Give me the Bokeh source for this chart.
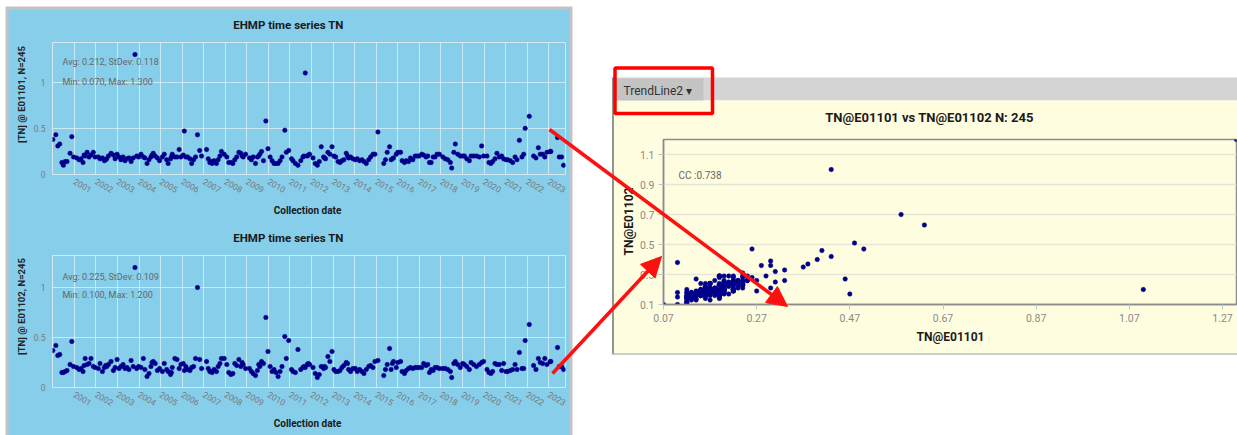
import math
from bokeh.plotting import figure
from bokeh.models import Column, Range1d, FixedTicker, CustomJSTickFormatter, Arrow, NormalHead
from bokeh.core.properties import value
from bokeh.embed import file_html
from bokeh.resources import INLINE

# ---------------- data ----------------
sample_dates = [
    2000.00, 2000.14, 2000.23, 2000.32, 2000.42, 2000.49, 2000.57, 2000.66, 2000.80, 2000.88, 2000.96,
    2001.11, 2001.22, 2001.31, 2001.40, 2001.45, 2001.50, 2001.59, 2001.68, 2001.77, 2001.88, 2001.96,
    2002.11, 2002.19, 2002.30, 2002.39, 2002.45, 2002.50, 2002.58, 2002.70, 2002.81, 2002.89, 2002.98,
    2003.07, 2003.16, 2003.26, 2003.35, 2003.44, 2003.53, 2003.63, 2003.73, 2003.81, 2003.89, 2003.98,
    2004.09, 2004.20, 2004.27, 2004.37, 2004.46, 2004.55, 2004.60, 2004.66, 2004.75, 2004.85, 2004.95,
    2005.08, 2005.17, 2005.28, 2005.35, 2005.46, 2005.50, 2005.54, 2005.66, 2005.76, 2005.86, 2005.94,
    2006.05, 2006.10, 2006.17, 2006.25, 2006.36, 2006.44, 2006.53, 2006.62, 2006.71, 2006.81, 2006.90,
    2007.13, 2007.21, 2007.28, 2007.35, 2007.39, 2007.48, 2007.59, 2007.67, 2007.75, 2007.82, 2007.95,
    2008.07, 2008.16, 2008.26, 2008.35, 2008.44, 2008.53, 2008.63, 2008.72, 2008.78, 2008.83, 2008.94,
    2009.12, 2009.21, 2009.29, 2009.40, 2009.49, 2009.55, 2009.60, 2009.68, 2009.77, 2009.88, 2009.98,
    2010.08, 2010.17, 2010.26, 2010.35, 2010.45, 2010.54, 2010.63, 2010.76, 2010.83, 2010.94,
    2011.07, 2011.14, 2011.25, 2011.37, 2011.50, 2011.60, 2011.65, 2011.71, 2011.80, 2011.85, 2011.91,
    2012.07, 2012.17, 2012.27, 2012.36, 2012.45, 2012.56, 2012.60, 2012.65, 2012.76, 2012.85, 2012.95,
    2013.04, 2013.12, 2013.23, 2013.32, 2013.41, 2013.50, 2013.61, 2013.67, 2013.72, 2013.81, 2013.92,
    2014.03, 2014.12, 2014.23, 2014.34, 2014.43, 2014.54, 2014.65, 2014.74, 2014.85, 2014.94, 2015.08,
    2015.35, 2015.43, 2015.51, 2015.62, 2015.69, 2015.75, 2015.80, 2015.93, 2016.00,
    2016.13, 2016.20, 2016.31, 2016.39, 2016.50, 2016.59, 2016.70, 2016.81, 2016.90, 2016.99,
    2017.11, 2017.20, 2017.31, 2017.39, 2017.47, 2017.55, 2017.64, 2017.73, 2017.82, 2017.93,
    2018.09, 2018.20, 2018.32, 2018.44, 2018.50, 2018.60, 2018.67, 2018.78, 2018.90, 2019.01,
    2019.09, 2019.20, 2019.32, 2019.40, 2019.52, 2019.65, 2019.78, 2019.89, 2019.98,
    2020.14, 2020.23, 2020.32, 2020.40, 2020.51, 2020.60, 2020.71, 2020.82, 2020.91, 2021.02,
    2021.10, 2021.22, 2021.33, 2021.44, 2021.53, 2021.64, 2021.76, 2021.84, 2021.91,
    2022.10, 2022.30, 2022.41, 2022.52, 2022.61, 2022.72, 2022.82, 2022.92, 2023.07,
    2023.10, 2023.41, 2023.49, 2023.60, 2023.69,
]

tn_e01101 = [
    0.38, 0.43, 0.31, 0.33, 0.13, 0.10, 0.14, 0.14, 0.23, 0.41, 0.19,
    0.18, 0.16, 0.17, 0.13, 0.21, 0.20, 0.24, 0.19, 0.21, 0.24, 0.19,
    0.19, 0.17, 0.18, 0.15, 0.16, 0.17, 0.20, 0.23, 0.21, 0.17, 0.22,
    0.19, 0.16, 0.19, 0.15, 0.17, 0.18, 0.14, 0.18, 1.30, 0.20, 0.19,
    0.22, 0.19, 0.18, 0.12, 0.16, 0.19, 0.21, 0.23, 0.20, 0.18, 0.15,
    0.19, 0.22, 0.16, 0.12, 0.17, 0.19, 0.22, 0.19, 0.19, 0.27, 0.19,
    0.21, 0.47, 0.19, 0.19, 0.17, 0.12, 0.16, 0.19, 0.43, 0.26, 0.20,
    0.27, 0.17, 0.13, 0.14, 0.12, 0.15, 0.12, 0.16, 0.20, 0.25, 0.22,
    0.19, 0.13, 0.13, 0.12, 0.16, 0.19, 0.24, 0.23, 0.20, 0.19, 0.22,
    0.18, 0.16, 0.19, 0.12, 0.19, 0.20, 0.22, 0.25, 0.15, 0.58, 0.28,
    0.19, 0.15, 0.12, 0.12, 0.12, 0.15, 0.19, 0.48, 0.24, 0.26,
    0.17, 0.15, 0.12, 0.10, 0.15, 0.19, 0.20, 1.10, 0.20, 0.21, 0.22,
    0.18, 0.12, 0.10, 0.14, 0.30, 0.19, 0.18, 0.17, 0.24, 0.22, 0.30,
    0.20, 0.19, 0.14, 0.13, 0.15, 0.16, 0.23, 0.20, 0.18, 0.19, 0.17,
    0.16, 0.17, 0.15, 0.16, 0.14, 0.12, 0.16, 0.19, 0.22, 0.22, 0.46,
    0.12, 0.16, 0.24, 0.30, 0.16, 0.17, 0.18, 0.22, 0.24,
    0.24, 0.15, 0.13, 0.15, 0.14, 0.18, 0.16, 0.20, 0.20, 0.20,
    0.22, 0.21, 0.19, 0.20, 0.13, 0.13, 0.19, 0.19, 0.22, 0.22,
    0.19, 0.17, 0.16, 0.13, 0.07, 0.24, 0.33, 0.22, 0.20, 0.20,
    0.20, 0.17, 0.15, 0.20, 0.20, 0.20, 0.19, 0.31, 0.20,
    0.20, 0.13, 0.12, 0.14, 0.17, 0.23, 0.19, 0.20, 0.17, 0.16,
    0.16, 0.15, 0.13, 0.19, 0.16, 0.37, 0.19, 0.22, 0.50,
    0.63, 0.20, 0.18, 0.29, 0.22, 0.22, 0.19, 0.24, 0.25,
    0.25, 0.40, 0.19, 0.19, 0.10,
]

tn_e01102 = [
    0.37, 0.42, 0.32, 0.33, 0.15, 0.15, 0.16, 0.17, 0.23, 0.46, 0.21,
    0.20, 0.18, 0.19, 0.16, 0.22, 0.29, 0.23, 0.24, 0.29, 0.21, 0.20,
    0.19, 0.24, 0.16, 0.20, 0.22, 0.21, 0.23, 0.26, 0.17, 0.20, 0.28,
    0.19, 0.21, 0.23, 0.19, 0.20, 0.18, 0.27, 0.21, 1.20, 0.19, 0.21,
    0.20, 0.29, 0.18, 0.11, 0.14, 0.21, 0.25, 0.26, 0.24, 0.17, 0.19,
    0.16, 0.24, 0.18, 0.16, 0.13, 0.15, 0.20, 0.29, 0.28, 0.19, 0.23,
    0.24, 0.17, 0.21, 0.18, 0.17, 0.20, 0.21, 0.29, 1.00, 0.28, 0.19,
    0.26, 0.19, 0.16, 0.16, 0.15, 0.18, 0.16, 0.21, 0.24, 0.29, 0.29,
    0.23, 0.15, 0.13, 0.14, 0.24, 0.22, 0.28, 0.21, 0.25, 0.23, 0.19,
    0.19, 0.16, 0.14, 0.12, 0.17, 0.23, 0.21, 0.26, 0.24, 0.70, 0.36,
    0.21, 0.16, 0.18, 0.15, 0.11, 0.16, 0.21, 0.51, 0.29, 0.47,
    0.18, 0.16, 0.15, 0.38, 0.18, 0.20, 0.21, 0.20, 0.23, 0.24, 0.23,
    0.20, 0.14, 0.10, 0.13, 0.21, 0.19, 0.21, 0.20, 0.31, 0.26, 0.36,
    0.18, 0.16, 0.16, 0.17, 0.20, 0.22, 0.25, 0.24, 0.18, 0.16, 0.19,
    0.19, 0.16, 0.18, 0.16, 0.14, 0.18, 0.21, 0.22, 0.20, 0.26, 0.27,
    0.12, 0.18, 0.23, 0.39, 0.18, 0.24, 0.26, 0.20, 0.25,
    0.26, 0.16, 0.14, 0.17, 0.19, 0.20, 0.19, 0.20, 0.20, 0.20,
    0.20, 0.24, 0.22, 0.23, 0.15, 0.18, 0.17, 0.20, 0.20, 0.19,
    0.19, 0.19, 0.18, 0.16, 0.10, 0.24, 0.26, 0.23, 0.20, 0.24,
    0.23, 0.21, 0.18, 0.25, 0.23, 0.21, 0.23, 0.25, 0.26,
    0.18, 0.15, 0.14, 0.16, 0.24, 0.23, 0.23, 0.17, 0.24, 0.16,
    0.16, 0.17, 0.18, 0.23, 0.18, 0.35, 0.19, 0.19, 0.47,
    0.63, 0.22, 0.18, 0.29, 0.25, 0.24, 0.29, 0.23, 0.26,
    0.26, 0.40, 0.21, 0.21, 0.18,
]

assert len(sample_dates) == len(tn_e01101) == len(tn_e01102) == 245

year_ticks = list(range(2001, 2024))
ts_y_ticks = [0, 0.5, 1]
scatter_x_ticks = [0.07, 0.27, 0.47, 0.67, 0.87, 1.07, 1.27]
scatter_y_ticks = [0.1, 0.3, 0.5, 0.7, 0.9, 1.1]

ts_title = "EHMP time series TN"
ts_xlabel = "Collection date"
ylabel_e01101 = "[TN] @ E01101, N=245"
ylabel_e01102 = "[TN] @ E01102, N=245"
stats_e01101 = ["Avg: 0.212, StDev: 0.118", "Min: 0.070, Max: 1.300"]
stats_e01102 = ["Avg: 0.225, StDev: 0.109", "Min: 0.100, Max: 1.200"]
scatter_title = "TN@E01101 vs TN@E01102 N: 245"
scatter_xlabel = "TN@E01101"
scatter_ylabel = "TN@E01102"
cc_text = "CC :0.738"
menu_text = "TrendLine2 \u25BE"

FONT = "Roboto"
DOT = "#00008b"
SKY = "#87ceeb"


def place(p, left, top):
    p.styles = {"position": "absolute", "left": f"{left}px", "top": f"{top}px"}
    p.frame_align = False


def canvas_fig(bg=None):
    p = figure(width=1237, height=435, x_range=Range1d(0, 1237), y_range=Range1d(435, 0),
               x_axis_type=None, y_axis_type=None,
               min_border=0, min_border_left=0, min_border_right=0,
               min_border_top=0, min_border_bottom=0,
               output_backend="svg", toolbar_location=None, outline_line_color=None)
    if bg is None:
        p.background_fill_alpha = 0
        p.border_fill_alpha = 0
    else:
        p.background_fill_color = bg
        p.border_fill_color = bg
    place(p, 0, 0)
    return p


def txt(p, x, y, t, size, color="#222222", bold=False, align="left", angle=0.0):
    p.text(x=[x], y=[y], text=[t], text_font=value(FONT), text_font_size=size,
           text_color=color, text_font_style="bold" if bold else "normal",
           text_align=align, text_baseline="middle", angle=angle)


# ---------------- background panels ----------------
bg = canvas_fig("white")
bg.quad(left=[5], right=[572], top=[6], bottom=[440], fill_color="#c3c3c3", line_color=None)
bg.quad(left=[8], right=[569], top=[9], bottom=[440], fill_color=SKY, line_color=None)
bg.quad(left=[612], right=[1237], top=[77], bottom=[100], fill_color="#d4d4d4", line_color=None)
bg.quad(left=[612], right=[1237], top=[100], bottom=[353], fill_color="#fffde0", line_color=None)
bg.quad(left=[613], right=[703], top=[78], bottom=[100], fill_color="#c4c4c4", line_color=None)
bg.segment(x0=[612.5], y0=[77], x1=[612.5], y1=[354], line_color="#707070", line_width=1.5)
bg.segment(x0=[612], y0=[353.5], x1=[1237], y1=[353.5], line_color="#bdbdbd", line_width=1.5)

for yt, ylab, ycen, yx in [
    (24, ylabel_e01101, 94, 210),
    (237, ylabel_e01102, 306, 423),
]:
    txt(bg, 288, yt, ts_title, "11.5px", "#1a1a1a", True, "center")
    txt(bg, 21, ycen, ylab, "9.5px", "#222222", True, "center", math.pi / 2)
    txt(bg, 307, yx, ts_xlabel, "10px", "#1a1a1a", True, "center")

txt(bg, 623, 90, menu_text, "12px", "#333333")
txt(bg, 929, 117, scatter_title, "13px", "#1a1a1a", True, "center")
txt(bg, 950, 336, scatter_xlabel, "12px", "#1a1a1a", True, "center")
txt(bg, 628, 221, scatter_ylabel, "12px", "#1a1a1a", True, "center", math.pi / 2)


# ---------------- time series charts ----------------
def ts_figure(values, ymax, left, top):
    p = figure(width=560, height=213,
               x_range=Range1d(1999.985, 2023.78), y_range=Range1d(0, ymax),
               output_backend="svg", toolbar_location=None,
               min_border_left=44, min_border_right=3, min_border_top=33, min_border_bottom=48,
               background_fill_alpha=0, border_fill_alpha=0,
               outline_line_color="#d4e9f3", outline_line_width=1)
    place(p, left, top)
    p.xaxis.ticker = FixedTicker(ticks=year_ticks)
    p.yaxis.ticker = FixedTicker(ticks=ts_y_ticks)
    p.xaxis.formatter = CustomJSTickFormatter(code="return tick.toFixed(0)")
    p.yaxis.formatter = CustomJSTickFormatter(code="return String(tick)")
    for ax in (p.xaxis[0], p.yaxis[0]):
        ax.axis_line_color = None
        ax.major_tick_line_color = None
        ax.minor_tick_line_color = None
        ax.major_tick_out = 0
        ax.major_tick_in = 0
        ax.major_label_text_color = "#7a7a7a"
        ax.major_label_text_font = FONT
        ax.major_label_text_font_size = "8.5px"
    p.xaxis.major_label_orientation = -0.52
    p.xaxis.major_label_standoff = 6
    p.yaxis.major_label_standoff = 7
    p.grid.grid_line_color = "white"
    p.grid.grid_line_alpha = 0.55
    p.scatter(sample_dates, values, size=4.5, fill_color=DOT, line_color=DOT, line_width=0.5)
    return p


ts1 = ts_figure(tn_e01101, 1.43, 8, 9)
ts2 = ts_figure(tn_e01102, 1.32, 8, 222)

# ---------------- scatter chart ----------------
sc = figure(width=625, height=253, x_range=Range1d(0.07, 1.30), y_range=Range1d(0.1, 1.2),
            output_backend="svg", toolbar_location=None,
            min_border_left=51, min_border_right=1, min_border_top=39, min_border_bottom=49,
            background_fill_alpha=0, border_fill_alpha=0,
            outline_line_color="#8c8c8c", outline_line_width=1.5)
place(sc, 612, 100)
sc.xaxis.ticker = FixedTicker(ticks=scatter_x_ticks)
sc.yaxis.ticker = FixedTicker(ticks=scatter_y_ticks)
sc.xaxis.formatter = CustomJSTickFormatter(code="return tick.toFixed(2)")
sc.yaxis.formatter = CustomJSTickFormatter(code="return tick.toFixed(1)")
for ax in (sc.xaxis[0], sc.yaxis[0]):
    ax.axis_line_color = "#8c8c8c"
    ax.axis_line_width = 1.5
    ax.major_tick_line_color = "#c4c4c4"
    ax.major_tick_out = 5
    ax.major_tick_in = 0
    ax.minor_tick_line_color = None
    ax.major_label_text_color = "#8a8a8a"
    ax.major_label_text_font = FONT
    ax.major_label_text_font_size = "10.5px"
    ax.major_label_standoff = 4
sc.xgrid.visible = False
sc.ygrid.grid_line_color = "#e6e6d6"
sc.ygrid.grid_line_width = 1.5
sc.scatter(tn_e01101, tn_e01102, size=4.5, fill_color=DOT, line_color=DOT, line_width=0.5)

# ---------------- annotation overlay (texts over plot areas, arrows, box) ----------------
ov = canvas_fig(None)
for stats, ys in [(stats_e01101, (61.5, 81)), (stats_e01102, (276, 294.5))]:
    txt(ov, 62, ys[0], stats[0], "9px", "#666666")
    txt(ov, 62, ys[1], stats[1], "9px", "#666666")
txt(ov, 678, 175, cc_text, "10px", "#666666")

ov.quad(left=[614.5], right=[712], top=[67.5], bottom=[113], fill_alpha=0,
        line_color="#ff0000", line_width=3.5)
ov.add_layout(Arrow(x_start=549, y_start=129, x_end=787, y_end=306,
                    line_color="#ff1010", line_width=3.5,
                    end=NormalHead(size=20, fill_color="#ff1010", line_color="#ff1010")))
ov.add_layout(Arrow(x_start=552, y_start=373, x_end=661, y_end=256,
                    line_color="#ff1010", line_width=3.5,
                    end=NormalHead(size=20, fill_color="#ff1010", line_color="#ff1010")))

root = Column(children=[bg, ts1, ts2, sc, ov], width=1237, height=435,
              styles={"position": "relative"})

open("out.html", "w").write(file_html(root, INLINE))
